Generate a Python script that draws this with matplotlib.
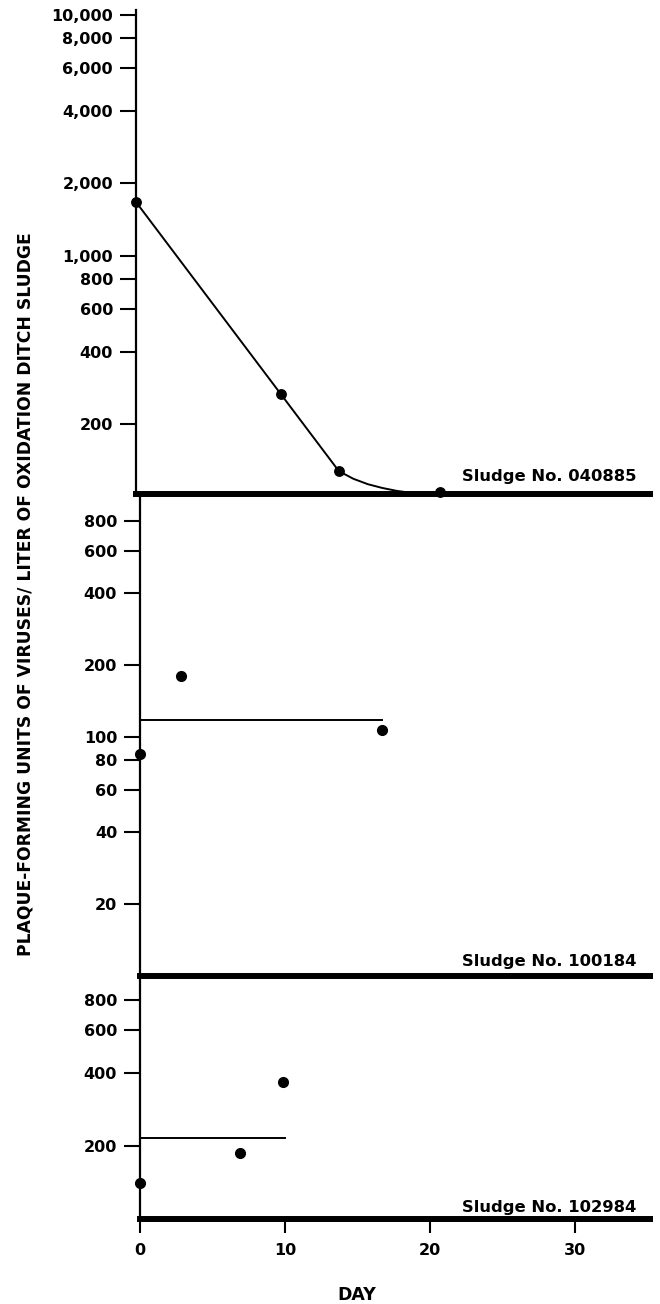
import matplotlib
matplotlib.use('Agg')
import matplotlib.pyplot as plt
from matplotlib.ticker import FixedLocator, FixedFormatter, NullLocator

# ---- data ----
top_days = [0, 10, 14, 21]
top_vals = [1675, 267, 128, 105]
top_curve_days = [0, 10, 14, 15, 16, 17, 18, 19]
top_curve_vals = [1675, 267, 128, 119, 113, 109, 106, 104]

mid_days = [0, 2.8, 16.7]
mid_vals = [85, 180, 107]
mid_line_days = [0, 16.7]
mid_line_vals = [118, 118]

bot_days = [0, 6.9, 9.9]
bot_vals = [141, 188, 366]
bot_line_days = [0, 10]
bot_line_vals = [215, 215]

top_ticks = [10000, 8000, 6000, 4000, 2000, 1000, 800, 600, 400, 200]
mid_ticks = [800, 600, 400, 200, 100, 80, 60, 40, 20]
bot_ticks = [800, 600, 400, 200]
x_ticks = [0, 10, 20, 30]
sludge_labels = ['Sludge No. 040885', 'Sludge No. 100184', 'Sludge No. 102984']
y_label = 'PLAQUE-FORMING UNITS OF VIRUSES/ LITER OF OXIDATION DITCH SLUDGE'
x_label = 'DAY'

plt.rcParams['font.family'] = ['DejaVu Sans']
plt.rcParams['font.weight'] = 'bold'

W, H = 660, 1304
fig = plt.figure(figsize=(W / 100, H / 100), dpi=100)

def px_axes(left, top, right, bottom):
    return fig.add_axes([left / W, 1 - bottom / H, (right - left) / W, (bottom - top) / H])

ax_top = px_axes(136, 10, 650, 494)
ax_mid = px_axes(140, 494, 650, 976)
ax_bot = px_axes(140, 976, 650, 1219)

xlims = [(0, 35.47), (0, 35.2), (0, 35.2)]
ylims = [(102.9, 10490), (10, 1039), (100, 1005)]
tick_sets = [top_ticks, mid_ticks, bot_ticks]
label_x = [(636 - 136) / 514, (636 - 140) / 510, (636 - 140) / 510]
label_offsets = [12.5, 10, 7]

for ax, xl, yl, ticks, lab, lx, off in zip([ax_top, ax_mid, ax_bot], xlims, ylims, tick_sets,
                                           sludge_labels, label_x, label_offsets):
    ax.set_yscale('log')
    ax.set_xlim(*xl)
    ax.set_ylim(*yl)
    ax.yaxis.set_major_locator(FixedLocator(ticks))
    ax.yaxis.set_major_formatter(FixedFormatter([f"{t:,}" for t in ticks]))
    ax.yaxis.set_minor_locator(NullLocator())
    ax.xaxis.set_minor_locator(NullLocator())
    ax.tick_params(axis='y', which='major', direction='out', length=11.5, width=1.5,
                   pad=5, labelsize=11.5)
    ax.spines['top'].set_visible(False)
    ax.spines['right'].set_visible(False)
    ax.spines['left'].set_linewidth(1.6)
    ax.spines['bottom'].set_linewidth(4.3)
    ax.patch.set_visible(False)
    ax.annotate(lab, xy=(lx, 0), xycoords='axes fraction',
                xytext=(0, off), textcoords='offset pixels',
                ha='right', va='baseline', fontsize=11.8, fontweight='bold')

for ax in [ax_top, ax_mid]:
    ax.xaxis.set_major_locator(FixedLocator([]))
    ax.tick_params(axis='x', length=0, labelbottom=False)

ax_bot.xaxis.set_major_locator(FixedLocator(x_ticks))
ax_bot.xaxis.set_major_formatter(FixedFormatter([str(t) for t in x_ticks]))
ax_bot.tick_params(axis='x', direction='out', length=10, width=1.5, pad=7, labelsize=11.5)

# top panel
ax_top.plot(top_curve_days, top_curve_vals, color='black', lw=1.4, zorder=2, clip_on=False)
ax_top.plot(top_days, top_vals, 'o', color='black', ms=6.8, zorder=2, clip_on=False)

# middle panel
ax_mid.plot(mid_line_days, mid_line_vals, color='black', lw=1.4, zorder=2, clip_on=False)
ax_mid.plot(mid_days, mid_vals, 'o', color='black', ms=7, zorder=3, clip_on=False)

# bottom panel
ax_bot.plot(bot_line_days, bot_line_vals, color='black', lw=1.4, zorder=2, clip_on=False)
ax_bot.plot(bot_days, bot_vals, 'o', color='black', ms=7, zorder=3, clip_on=False)

fig.text(26 / W, 1 - 594 / H, y_label, rotation=90, ha='center', va='center',
         fontsize=12.3, fontweight='bold')
fig.text(357 / W, 1 - 1295 / H, x_label, ha='center', va='center',
         fontsize=12.5, fontweight='bold')

fig.savefig('out.png', dpi=100)
